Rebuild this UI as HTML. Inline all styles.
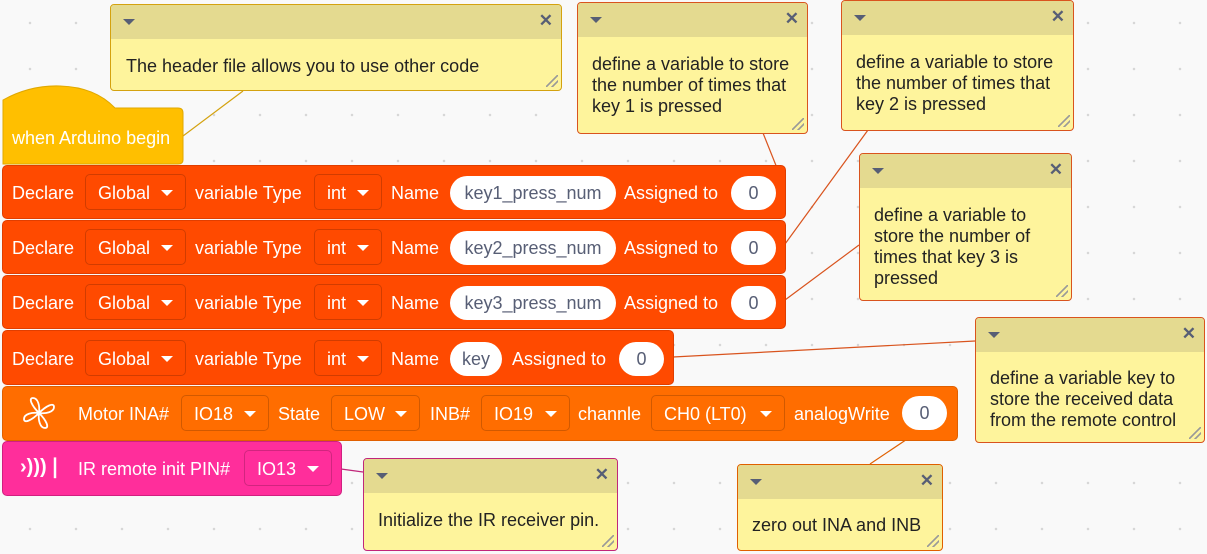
<!DOCTYPE html>
<html><head><meta charset="utf-8"><style>
*{box-sizing:border-box;margin:0;padding:0}
body{width:1207px;height:554px;overflow:hidden;background:#f9f9f9;position:relative;font-family:"Liberation Sans",Arial,sans-serif;
background-image:radial-gradient(circle,#d6d6d6 1px,transparent 1.5px);background-size:46px 46px;background-position:7px 0px}
.a{position:absolute}
.blk{position:absolute;border-radius:5px}
.t{position:absolute;color:#fff;font-size:18px;white-space:nowrap;line-height:20px}
.dd{position:absolute;border:1px solid rgba(0,0,0,.18);border-radius:5px;color:#fff;font-size:18px;line-height:34px;padding-left:12px;padding-top:1px;white-space:nowrap}
.dd:after{content:"";position:absolute;right:12px;top:15px;border-left:6px solid transparent;border-right:6px solid transparent;border-top:6px solid #fff}
.pill{position:absolute;background:#fff;border-radius:17px;height:34px;color:#575e75;font-size:18px;line-height:35px;text-align:center}
.cm{position:absolute;background:#fef49c;border:1px solid #d9541e;border-radius:4px;overflow:hidden}
.cm .h{height:34px;background:#e4da90;position:relative}
.cm .h:before{content:"";position:absolute;left:12px;top:14px;border-left:6px solid transparent;border-right:6px solid transparent;border-top:6px solid #575e75}
.cm .h:after{content:"✕";position:absolute;right:8px;top:6px;font-size:17px;font-weight:bold;color:#575e75}
.cm .b{position:absolute;left:14px;top:51px;font-size:18px;line-height:21px;color:#222}
.cm .r{position:absolute;right:3px;bottom:3px;width:12px;height:12px;background:linear-gradient(135deg,transparent 45%,#999 46%,#999 54%,transparent 55%,transparent 70%,#999 71%,#999 79%,transparent 80%)}
</style></head><body>
<svg class="a" style="left:0;top:0" width="1207" height="554">
<g stroke-width="1.2" fill="none">
<line x1="243" y1="91" x2="183" y2="136" stroke="#d4a20f"/>
<line x1="763" y1="133" x2="785" y2="188" stroke="#d9541e"/>
<line x1="868" y1="130" x2="785" y2="244" stroke="#d9541e"/>
<line x1="859" y1="245" x2="785" y2="300" stroke="#d9541e"/>
<line x1="975" y1="341" x2="673" y2="357" stroke="#d9541e"/>
<line x1="363" y1="472" x2="341" y2="469" stroke="#c0267a"/>
<line x1="870" y1="464" x2="946" y2="413" stroke="#e06000"/>
</g>
<path d="M3 108 L3 100 Q30 85 60 86 Q95 87 115 108 L178 108 Q183 108 183 113 L183 160 Q183 164 178 164 L3 164 Z" fill="#ffbf00" stroke="#e0a800"/>
</svg>
<div class="t" style="left:12px;top:128px">when Arduino begin</div>

<div class="blk" style="left:2px;top:165px;width:784px;height:54px;background:#ff4a00;border:1px solid #e03e00"></div>
<div class="blk" style="left:2px;top:220px;width:784px;height:54px;background:#ff4a00;border:1px solid #e03e00"></div>
<div class="blk" style="left:2px;top:275px;width:784px;height:54px;background:#ff4a00;border:1px solid #e03e00"></div>
<div class="blk" style="left:2px;top:330px;width:672px;height:55px;background:#ff4a00;border:1px solid #e03e00"></div>

<div class="t" style="left:12px;top:183px">Declare</div><div class="dd" style="left:85px;top:174px;width:101px;height:36px">Global</div><div class="t" style="left:195px;top:183px">variable Type</div><div class="dd" style="left:314px;top:174px;width:68px;height:36px">int</div><div class="t" style="left:391px;top:183px">Name</div><div class="pill" style="left:450px;top:176px;width:166px">key1_press_num</div><div class="t" style="left:624px;top:183px">Assigned to</div><div class="pill" style="left:731px;top:176px;width:45px">0</div>

<div class="t" style="left:12px;top:238px">Declare</div><div class="dd" style="left:85px;top:229px;width:101px;height:36px">Global</div><div class="t" style="left:195px;top:238px">variable Type</div><div class="dd" style="left:314px;top:229px;width:68px;height:36px">int</div><div class="t" style="left:391px;top:238px">Name</div><div class="pill" style="left:450px;top:231px;width:166px">key2_press_num</div><div class="t" style="left:624px;top:238px">Assigned to</div><div class="pill" style="left:731px;top:231px;width:45px">0</div>

<div class="t" style="left:12px;top:293px">Declare</div><div class="dd" style="left:85px;top:284px;width:101px;height:36px">Global</div><div class="t" style="left:195px;top:293px">variable Type</div><div class="dd" style="left:314px;top:284px;width:68px;height:36px">int</div><div class="t" style="left:391px;top:293px">Name</div><div class="pill" style="left:450px;top:286px;width:166px">key3_press_num</div><div class="t" style="left:624px;top:293px">Assigned to</div><div class="pill" style="left:731px;top:286px;width:45px">0</div>

<div class="t" style="left:12px;top:349px">Declare</div><div class="dd" style="left:85px;top:340px;width:101px;height:36px">Global</div><div class="t" style="left:195px;top:349px">variable Type</div><div class="dd" style="left:314px;top:340px;width:68px;height:36px">int</div><div class="t" style="left:391px;top:349px">Name</div><div class="pill" style="left:450px;top:342px;width:52px">key</div><div class="t" style="left:512px;top:349px">Assigned to</div><div class="pill" style="left:619px;top:342px;width:45px">0</div>

<div class="blk" style="left:2px;top:386px;width:956px;height:55px;background:#ff6d00;border:1px solid #e06000"></div>
<svg class="a" style="left:22px;top:396px" width="34" height="34" viewBox="0 0 34 34" fill="none" stroke="#fff" stroke-width="1.8"><path d="M17 17 C10 10 6 2 11 2 C16 2 18 10 17 17 C24 10 32 6 32 11 C32 16 24 18 17 17 C24 24 28 32 23 32 C18 32 16 24 17 17 C10 24 2 28 2 23 C2 18 10 16 17 17Z"/></svg>
<div class="t" style="left:78px;top:404px">Motor INA#</div><div class="dd" style="left:181px;top:395px;width:88px;height:36px">IO18</div>
<div class="t" style="left:278px;top:404px">State</div><div class="dd" style="left:331px;top:395px;width:89px;height:36px">LOW</div>
<div class="t" style="left:430px;top:404px">INB#</div><div class="dd" style="left:481px;top:395px;width:89px;height:36px">IO19</div>
<div class="t" style="left:578px;top:404px">channle</div><div class="dd" style="left:651px;top:395px;width:134px;height:36px">CH0 (LT0)</div>
<div class="t" style="left:794px;top:404px">analogWrite</div><div class="pill" style="left:902px;top:396px;width:45px">0</div>

<div class="blk" style="left:2px;top:441px;width:340px;height:55px;background:#ff2e9b;border:1px solid #d02080"></div>
<div class="t" style="left:20px;top:457px;font-size:20px;font-weight:bold">›)))❘</div>
<div class="t" style="left:78px;top:459px">IR remote init PIN#</div><div class="dd" style="left:244px;top:450px;width:88px;height:36px">IO13</div>

<div class="cm" style="left:110px;top:4px;width:452px;height:87px;border-color:#d4a20f"><div class="h"></div><div class="b" style="left:15px;top:51px">The header file allows you to use other code</div><div class="r"></div></div>
<div class="cm" style="left:577px;top:2px;width:231px;height:132px"><div class="h"></div><div class="b">define a variable to store<br>the number of times that<br>key 1 is pressed</div><div class="r"></div></div>
<div class="cm" style="left:841px;top:0px;width:233px;height:131px"><div class="h"></div><div class="b">define a variable to store<br>the number of times that<br>key 2 is pressed</div><div class="r"></div></div>
<div class="cm" style="left:859px;top:153px;width:213px;height:148px"><div class="h"></div><div class="b" style="top:51px">define a variable to<br>store the number of<br>times that key 3 is<br>pressed</div><div class="r"></div></div>
<div class="cm" style="left:975px;top:317px;width:230px;height:126px"><div class="h"></div><div class="b" style="top:50px">define a variable key to<br>store the received data<br>from the remote control</div><div class="r"></div></div>
<div class="cm" style="left:363px;top:458px;width:255px;height:93px;border-color:#c0267a"><div class="h"></div><div class="b" style="top:51px">Initialize the IR receiver pin.</div><div class="r"></div></div>
<div class="cm" style="left:737px;top:464px;width:206px;height:87px;border-color:#e06000"><div class="h"></div><div class="b" style="top:50px">zero out INA and INB</div><div class="r"></div></div>
</body></html>
